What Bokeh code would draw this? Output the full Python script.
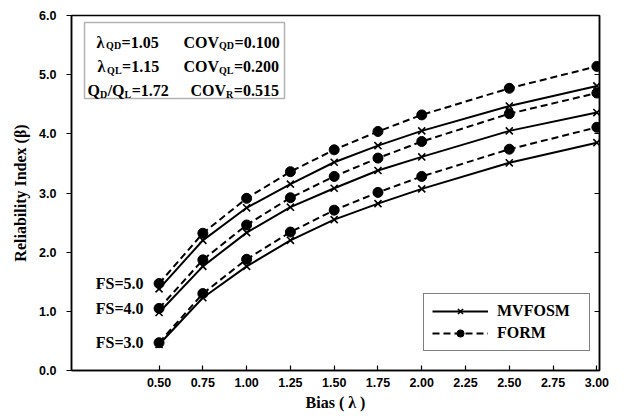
from bokeh.plotting import figure
from bokeh.models import (Label, BoxAnnotation, Legend, LegendItem, FixedTicker,
                          LinearAxis, NumeralTickFormatter)
from bokeh.embed import file_html
from bokeh.resources import INLINE

# ---------------- data ----------------
bias = [0.5, 0.75, 1.0, 1.25, 1.5, 1.75, 2.0, 2.5, 3.0]
form_fs5 = [1.47, 2.32, 2.91, 3.36, 3.73, 4.04, 4.32, 4.77, 5.14]
mv_fs5 = [1.38, 2.20, 2.75, 3.15, 3.52, 3.80, 4.05, 4.47, 4.81]
form_fs4 = [1.05, 1.87, 2.46, 2.92, 3.28, 3.59, 3.87, 4.34, 4.69]
mv_fs4 = [0.98, 1.76, 2.33, 2.76, 3.08, 3.38, 3.61, 4.05, 4.36]
form_fs3 = [0.47, 1.30, 1.88, 2.34, 2.71, 3.01, 3.28, 3.74, 4.11]
mv_fs3 = [0.44, 1.23, 1.76, 2.20, 2.55, 2.82, 3.07, 3.51, 3.85]
fs_labels = ["FS=5.0", "FS=4.0", "FS=3.0"]
x_ticks = [0.5, 0.75, 1.0, 1.25, 1.5, 1.75, 2.0, 2.25, 2.5, 2.75, 3.0]
y_ticks = [0, 1, 2, 3, 4, 5, 6]
right_ticks = [1, 2, 3, 4, 5]

# ---------------- layout ----------------
W, H = 627, 416
FL, FT, FW, FH = 71, 15, 528, 355
XR = (0.0, 3.015)
YR = (0.0, 6.0)

def dx(px):
    return XR[0] + (px - FL) / FW * (XR[1] - XR[0])

def dy(py):
    return YR[0] + (FT + FH - py) / FH * (YR[1] - YR[0])

SERIF = "Liberation Serif"
SANS = "Liberation Sans"

p = figure(width=W, height=H, x_range=XR, y_range=YR,
           min_border_left=FL, min_border_right=W - FL - FW,
           min_border_top=FT, min_border_bottom=H - FT - FH,
           toolbar_location=None, output_backend="svg")
p.background_fill_color = "white"
p.border_fill_color = "white"
p.outline_line_color = "black"
p.outline_line_width = 1.5
p.xgrid.visible = False
p.ygrid.visible = False

# axes
xa = p.xaxis[0]
xa.ticker = FixedTicker(ticks=x_ticks)
xa.formatter = NumeralTickFormatter(format="0.00")
xa.major_tick_in = 5
xa.major_tick_out = 0
xa.minor_tick_line_color = None
xa.axis_line_width = 1.5
xa.axis_line_color = "black"
xa.major_tick_line_color = "black"
xa.major_tick_line_width = 1.2
xa.major_label_text_font = SANS
xa.major_label_text_font_style = "bold"
xa.major_label_text_font_size = "12.5px"
xa.major_label_text_color = "black"
xa.major_label_standoff = 7
xa.axis_label = "Bias ( λ )"
xa.axis_label_text_font = SERIF
xa.axis_label_text_font_style = "bold"
xa.axis_label_text_font_size = "16px"
xa.axis_label_text_color = "black"
xa.axis_label_standoff = 4

ya = p.yaxis[0]
ya.ticker = FixedTicker(ticks=y_ticks)
ya.formatter = NumeralTickFormatter(format="0.0")
ya.major_tick_in = 0
ya.major_tick_out = 5
ya.minor_tick_line_color = None
ya.axis_line_width = 1.5
ya.axis_line_color = "black"
ya.major_tick_line_color = "black"
ya.major_tick_line_width = 1.2
ya.major_label_text_font = SANS
ya.major_label_text_font_style = "bold"
ya.major_label_text_font_size = "12.5px"
ya.major_label_text_color = "black"
ya.major_label_standoff = 10
ya.axis_label = "Reliability Index (β)"
ya.axis_label_text_font = SERIF
ya.axis_label_text_font_style = "bold"
ya.axis_label_text_font_size = "16px"
ya.axis_label_text_color = "black"
ya.axis_label_standoff = 7

ra = LinearAxis(ticker=FixedTicker(ticks=right_ticks),
                major_label_overrides={t: "" for t in right_ticks},
                major_tick_in=5, major_tick_out=0,
                minor_tick_line_color=None, axis_line_width=1.5,
                axis_line_color="black", major_tick_line_color="black",
                major_label_standoff=0)
p.add_layout(ra, "right")

# ---------------- series ----------------
DASH = "7 4"
mv_series = [mv_fs5, mv_fs4, mv_fs3]
form_series = [form_fs5, form_fs4, form_fs3]
mv_r = []
form_r = []
for ys in form_series:
    l = p.line(bias, ys, line_color="black", line_width=2, line_dash=DASH)
    s = p.scatter(bias, ys, marker="circle", size=10, fill_color="black",
                  line_color="black")
    form_r.append((l, s))
for ys in mv_series:
    l = p.line(bias, ys, line_color="black", line_width=2)
    s = p.scatter(bias, ys, marker="x", size=10, line_color="black",
                  line_width=1.6)
    mv_r.append((l, s))

legend = Legend(items=[
    LegendItem(label="MVFOSM", renderers=list(mv_r[0])),
    LegendItem(label="FORM", renderers=list(form_r[0])),
], location=(352, 19))
legend.label_text_font = SERIF
legend.label_text_font_style = "bold"
legend.label_text_font_size = "16px"
legend.label_text_color = "black"
legend.glyph_width = 56
legend.glyph_height = 18
legend.label_standoff = 9
legend.label_width = 84
legend.spacing = 4
legend.padding = 8
legend.margin = 0
legend.border_line_color = "black"
legend.border_line_width = 1.5
legend.background_fill_color = "white"
legend.background_fill_alpha = 1.0
p.add_layout(legend, "center")

# FS labels (at the first point of each FORM curve)
for lab, ys in zip(fs_labels, form_series):
    p.add_layout(Label(x=dx(143), y=ys[0], text=lab, text_align="right",
                       text_baseline="middle", text_font=SERIF,
                       text_font_style="bold", text_font_size="16px",
                       text_color="black"))

# ---------------- info box ----------------
p.add_layout(BoxAnnotation(left=dx(84), right=dx(284), top=dy(22), bottom=dy(98),
                           fill_color="white", fill_alpha=1.0,
                           line_color="black", line_width=1.5))

WID = {"λ": 0.60, "Q": 0.778, "D": 0.722, "L": 0.667, "R": 0.722, "C": 0.722,
       "O": 0.778, "V": 0.722, "=": 0.570, ".": 0.25, "/": 0.278}
MAIN, SUB = 16, 10

def text_w(s, size):
    return sum(WID.get(c, 0.5) for c in s) * size

def rich(x0, base, parts):
    x = x0
    for txt, sub in parts:
        size = SUB if sub else MAIN
        yb = base + (3.5 if sub else 0)
        p.add_layout(Label(x=dx(x), y=dy(yb), text=txt, text_align="left",
                           text_baseline="alphabetic", text_font=SERIF,
                           text_font_style="bold",
                           text_font_size=f"{size}px", text_color="black"))
        x += text_w(txt, size) + (0.5 if sub else 0)

rich(96, 41.5, [("λ", False), ("QD", True), ("=1.05", False)])
rich(183, 41.5, [("COV", False), ("QD", True), ("=0.100", False)])
rich(97, 66, [("λ", False), ("QL", True), ("=1.15", False)])
rich(183, 66, [("COV", False), ("QL", True), ("=0.200", False)])
rich(87, 90, [("Q", False), ("D", True), ("/", False), ("Q", False), ("L", True),
              ("=1.72", False)])
rich(190, 90, [("COV", False), ("R", True), ("=0.515", False)])

open("out.html", "w").write(file_html(p, INLINE))
